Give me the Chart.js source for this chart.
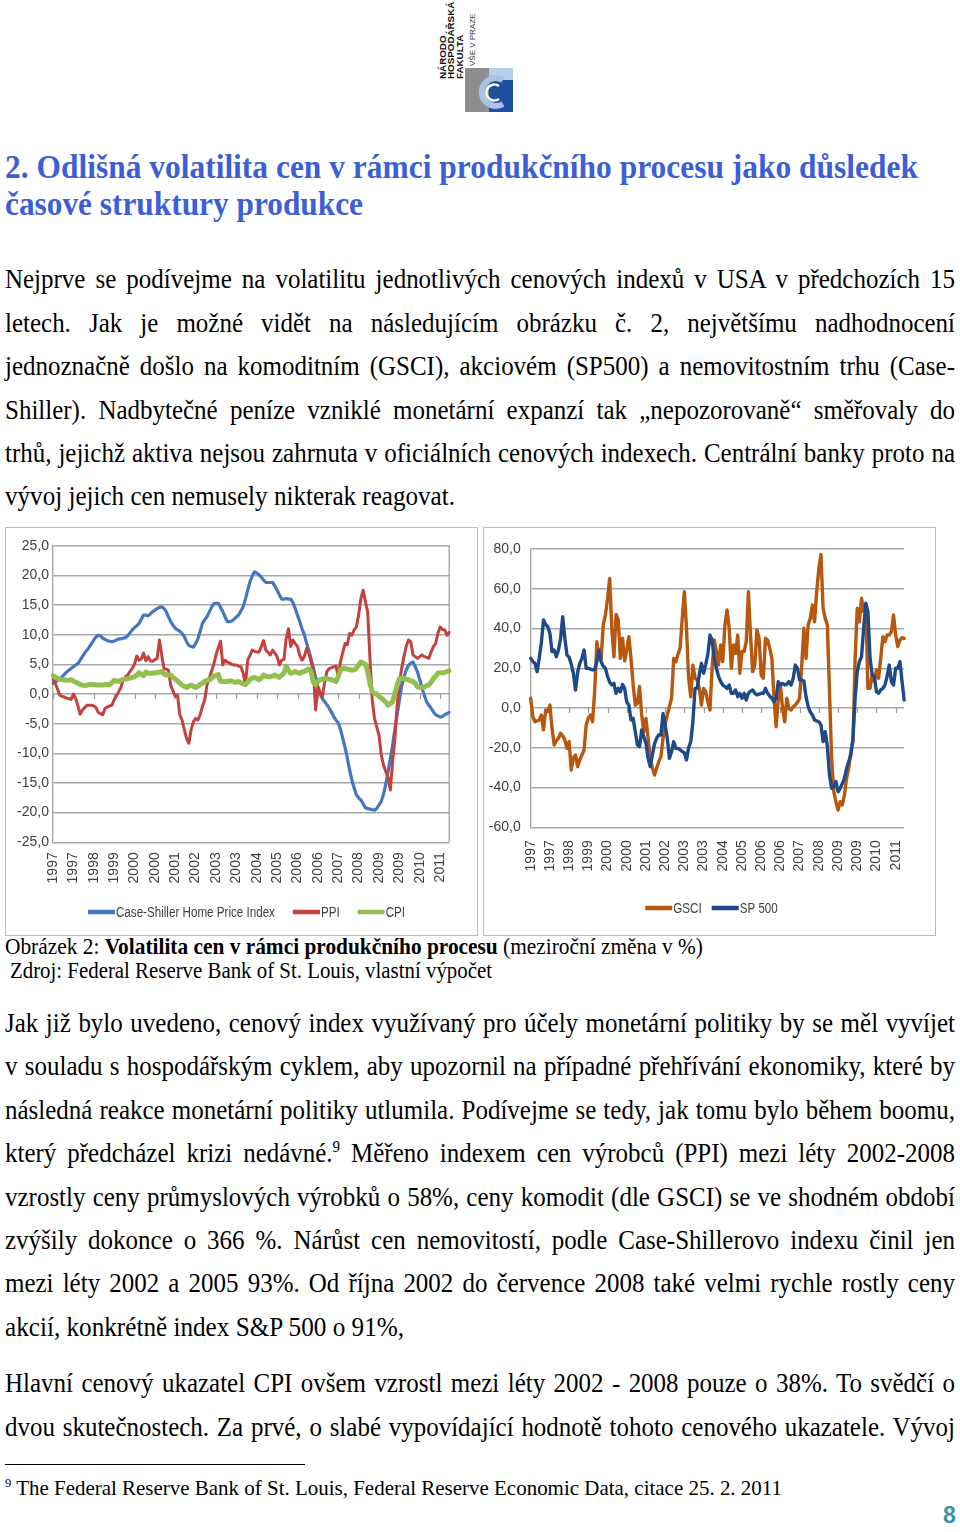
<!DOCTYPE html>
<html><head><meta charset="utf-8">
<script src="https://cdn.jsdelivr.net/npm/chart.js@4.4.0/dist/chart.umd.min.js"></script>
<style>
html,body{margin:0;padding:0;background:#fff;}
body{width:960px;height:1532px;position:relative;overflow:hidden;font-family:"Liberation Serif","Times New Roman",serif;color:#000;}
.ln{position:absolute;white-space:nowrap;}
.hd{color:#3c5fd7;font-weight:bold;}
.frame{position:absolute;border:1px solid #bdbdbd;box-sizing:border-box;}
.cbox{position:absolute;}
sup{font-size:0.6em;vertical-align:0.6em;line-height:0;}
</style></head><body>

<div style="position:absolute;left:439px;top:0;height:79px;writing-mode:vertical-rl;transform:rotate(180deg);font:bold 9.8px 'Liberation Sans',Arial,sans-serif;line-height:8.3px;white-space:nowrap;color:#111;">NÁRODO<br>HOSPODÁŘSKÁ<br>FAKULTA</div>
<div style="position:absolute;left:469px;top:12px;height:54px;writing-mode:vertical-rl;transform:rotate(180deg);font:8px 'Liberation Sans',Arial,sans-serif;line-height:8px;white-space:nowrap;color:#333;">VŠE V PRAZE</div>
<svg style="position:absolute;left:463px;top:66px" width="52" height="46" viewBox="0 0 52 46">
  <rect x="2" y="2" width="24" height="44" fill="#8d8d8d"/>
  <rect x="26" y="2" width="24" height="14" fill="#b7cde8"/>
  <rect x="26" y="14" width="24" height="32" fill="#1c4f9f"/>
  <path d="M40 14 A14 14 0 1 0 40 38" fill="none" stroke="#a9c3e6" stroke-width="6"/>
  <path d="M36 20 A8 8 0 1 0 36 33" fill="none" stroke="#ffffff" stroke-width="2.5"/>
</svg>

<div class="frame" style="left:5px;top:527px;width:473px;height:409px;"></div>
<div class="frame" style="left:483px;top:527px;width:453px;height:409px;"></div>
<div class="cbox" style="left:6px;top:528px;width:470px;height:406px;"><canvas id="c1"></canvas></div>
<div class="cbox" style="left:484px;top:528px;width:450px;height:406px;"><canvas id="c2"></canvas></div>

<div style="position:absolute;left:5px;top:1464px;width:300px;height:1px;background:#000;"></div>

<div id="txt"></div>

<script>
// ---------- chart data ----------
const startYear = 1997, endYear = 2011, endMonth = 8;
const months = [];
for (let y = startYear; y <= endYear; y++) for (let m = 1; m <= 12; m++) { if (y === endYear && m > endMonth) break; months.push(y + '-' + String(m).padStart(2, '0')); }

const yearTicks = ['1997','1997','1998','1999','2000','2000','2001','2002','2003','2003','2004','2005','2006','2006','2007','2008','2009','2009','2010','2011'];
const tickEvery = 9;

const leftYTicks = {min: -25, max: 25, step: 5};
const rightYTicks = {min: -60, max: 80, step: 20};

const caseShiller = [
 1.8,2.0,2.3,2.5,2.9,3.3,3.7,4.0,4.3,4.6,4.9,5.1,
 5.7,6.3,6.9,7.4,7.9,8.5,9.1,9.6,9.9,9.8,9.4,9.2,
 9.0,8.9,8.8,8.9,9.1,9.3,9.3,9.4,9.5,9.8,10.3,10.8,
 11.2,11.5,11.9,12.6,13.3,13.3,13.2,13.5,13.9,14.1,14.4,14.6,
 14.7,14.4,13.9,13.0,12.2,11.6,11.1,10.8,10.6,10.2,9.7,8.8,
 8.2,8.0,7.9,8.5,9.3,10.6,11.9,12.5,13.0,13.8,14.6,15.2,
 15.3,15.3,14.6,13.9,13.0,12.2,12.2,12.3,12.6,13.0,13.3,14.0,
 14.7,16.0,17.5,18.9,19.9,20.6,20.4,20.1,19.7,19.2,18.8,18.8,
 18.8,18.8,18.2,17.5,16.7,16.0,16.0,16.1,16.0,16.0,15.4,14.4,
 13.3,12.2,11.0,10.0,8.6,7.3,5.9,4.4,2.8,1.2,0.0,-0.8,
 -1.3,-1.8,-2.4,-3.1,-3.8,-4.4,-4.9,-6.0,-7.5,-9.0,-10.8,-12.8,
 -14.5,-15.8,-17.0,-17.5,-17.9,-18.5,-19.2,-19.3,-19.4,-19.5,-19.6,-19.3,
 -18.7,-18.1,-16.9,-15.2,-13.1,-10.9,-8.6,-6.0,-3.5,-1.0,1.3,2.9,
 4.0,4.8,5.2,5.4,4.6,3.7,2.4,1.0,-0.2,-1.3,-1.9,-2.4,
 -3.0,-3.5,-3.7,-3.9,-3.8,-3.5,-3.3,-3.1
];
const ppi = [
 2.4,1.8,0.8,-0.2,-0.4,-0.5,-0.7,-0.8,-0.9,0.0,-0.7,-2.0,
 -3.4,-2.7,-2.3,-1.9,-1.9,-1.9,-2.0,-2.3,-3.1,-3.3,-3.5,-2.4,
 -2.2,-2.0,-1.9,-1.0,-0.3,0.4,1.1,2.4,2.9,3.2,3.8,4.3,
 5.0,6.4,5.7,5.9,6.9,5.6,6.3,5.6,5.5,5.8,6.0,9.1,
 6.6,4.3,4.2,4.0,1.5,0.5,-0.4,-0.2,-3.5,-4.4,-6.0,-7.5,
 -8.3,-6.0,-4.7,-4.1,-4.4,-3.5,-2.1,-1.0,1.5,2.6,3.8,5.0,
 6.6,7.8,8.9,4.9,5.7,5.4,5.2,5.0,4.9,4.9,4.7,4.6,
 3.5,1.5,5.7,6.5,7.4,7.2,7.1,7.1,8.0,9.0,7.4,7.0,
 6.6,7.4,6.9,6.3,4.9,5.7,5.8,9.4,11.0,8.0,9.1,8.5,
 8.0,6.5,5.7,6.3,7.7,6.9,5.5,3.8,-2.7,1.2,0.3,-0.4,
 2.0,3.8,4.3,4.4,4.6,4.7,2.9,5.5,7.0,8.5,8.3,10.2,
 9.9,10.8,11.3,13.3,16.1,17.5,15.6,13.8,6.0,-1.0,-4.1,-5.5,
 -7.0,-10.3,-12.0,-13.1,-14.0,-16.2,-11.4,-7.5,-1.9,2.0,4.3,6.3,
 8.0,9.1,8.8,6.6,6.3,6.0,6.3,6.6,6.3,6.2,6.0,7.1,
 8.0,8.5,10.2,11.3,10.9,10.8,9.9,10.4
];
const cpi = [
 3.1,2.9,2.6,2.5,2.4,2.4,2.3,2.3,2.4,2.2,2.0,1.8,
 1.6,1.5,1.4,1.5,1.6,1.6,1.6,1.5,1.5,1.5,1.5,1.6,
 1.6,1.6,1.9,2.3,2.2,2.1,2.3,2.5,2.5,2.6,2.7,2.8,
 2.9,3.2,3.6,3.3,3.1,3.7,3.5,3.5,3.5,3.6,3.6,3.7,
 3.8,3.4,3.2,3.2,3.2,2.8,2.5,2.2,1.8,1.5,1.3,1.1,
 1.3,1.5,1.3,1.1,1.3,1.6,1.8,2.1,2.3,2.4,2.6,3.0,
 3.1,3.3,2.1,2.1,2.1,2.1,2.2,2.2,2.0,2.0,2.1,1.9,
 1.7,1.6,2.0,2.5,2.7,2.8,2.6,2.4,2.7,3.2,3.0,2.9,
 2.9,3.0,3.2,3.0,2.8,3.2,3.5,4.7,4.0,3.5,3.6,3.8,
 3.6,3.5,3.7,3.8,4.0,4.2,3.8,2.0,1.6,2.1,2.4,2.5,
 2.6,2.6,2.5,2.4,2.3,2.1,3.0,4.1,4.3,4.3,4.2,4.1,
 4.0,4.1,4.3,4.9,5.4,5.2,5.0,3.8,1.8,0.4,0.1,0.0,
 -0.4,-0.7,-1.0,-1.4,-1.9,-1.6,-1.3,0.1,1.5,2.6,2.7,2.6,
 2.5,2.4,2.2,2.1,1.8,1.2,1.1,1.1,1.2,1.4,1.5,2.0,
 2.6,3.0,3.5,3.6,3.6,3.6,3.8,3.9
];
const gsci = [
 4.9,-4.4,-6.9,-6.5,-6.0,-3.5,-11.0,-1.0,-1.8,1.5,-10.2,-18.6,
 -16.5,-15.2,-12.7,-14.0,-16.0,-20.3,-16.9,-31.2,-25.0,-23.6,-29.5,-26.0,
 -23.6,-21.1,-8.5,-5.0,-3.5,-6.9,9.1,33.4,25.8,25.0,41.8,46.8,
 55.0,65.2,40.1,25.8,47.1,44.3,25.0,35.1,23.7,29.2,35.9,25.0,
 11.6,1.5,2.3,10.8,-3.5,-11.9,-5.2,-15.2,-25.3,-30.0,-33.7,-30.3,
 -27.0,-24.5,-15.2,-8.0,-3.5,0.7,4.9,25.0,23.3,27.0,30.0,45.1,
 58.5,40.1,15.0,5.7,21.6,15.0,14.1,10.0,1.5,9.9,8.2,3.2,
 -1.0,20.0,34.2,28.4,21.6,31.7,23.3,41.8,49.3,40.1,20.0,31.7,
 27.5,36.7,17.5,28.4,28.4,33.4,58.5,36.7,18.3,21.6,39.3,35.1,
 16.6,15.0,35.1,34.2,30.0,25.0,4.9,-9.4,4.9,11.6,-0.2,-6.9,
 4.9,-0.2,-1.0,0.5,1.5,3.0,4.9,21.6,40.1,25.0,41.8,45.1,
 51.8,43.4,58.5,70.0,77.3,50.2,45.1,41.8,8.2,-25.3,-42.1,-47.1,
 -51.3,-47.1,-48.8,-43.7,-35.4,-30.3,-22.0,-16.9,25.0,50.2,43.4,55.2,
 48.5,51.8,9.9,9.9,16.6,13.3,19.2,15.0,25.0,35.9,33.4,36.7,
 36.7,38.4,46.8,36.7,30.9,34.2,35.4,35.0
];
const sp500 = [
 25.0,23.3,22.5,18.3,25.0,33.0,44.3,42.0,40.9,37.6,28.4,29.2,
 25.8,29.2,35.0,46.0,35.1,26.7,25.5,22.0,17.5,9.1,18.0,22.5,
 25.0,29.2,20.0,20.0,19.6,19.2,19.5,23.3,29.2,23.3,21.0,20.0,
 16.0,13.0,11.6,12.4,7.4,9.9,8.2,11.9,9.9,3.0,1.5,-6.0,
 -5.2,-11.9,-18.6,-19.4,-11.0,-14.4,-17.7,-25.3,-29.5,-23.6,-18.0,-15.2,
 -13.6,-13.6,-2.7,-8.5,-15.2,-25.3,-22.0,-16.9,-20.3,-20.3,-21.0,-21.9,
 -22.5,-26.1,-20.0,-16.9,-6.9,9.9,9.9,17.0,22.5,17.5,22.0,27.0,
 36.7,34.2,25.0,20.0,16.0,13.3,11.5,10.8,9.9,11.6,7.4,7.4,
 9.1,5.7,7.4,4.9,7.4,4.0,7.4,8.5,9.1,7.4,6.6,7.0,
 7.4,7.4,9.9,7.4,6.0,4.9,3.2,4.9,13.3,11.6,12.4,11.6,
 12.0,13.3,11.6,15.0,21.6,20.0,14.1,14.1,13.6,5.7,0.7,-2.0,
 -3.5,-6.0,-6.5,-6.9,-8.5,-16.9,-11.9,-19.4,-33.7,-40.4,-39.5,-37.0,
 -42.1,-40.4,-38.0,-35.4,-30.3,-27.0,-23.6,-15.2,4.9,18.3,23.3,25.8,
 40.1,52.7,48.5,25.0,16.6,15.8,8.2,7.4,9.1,9.9,11.6,16.0,
 21.6,13.3,11.6,20.0,20.0,23.3,13.3,4.0
];

// ---------- page text ----------
const B = 27, S = 0.925;
const textLines = [
 {h:'2. Odlišná volatilita cen v rámci produkčního procesu jako důsledek', x:5, cy:168, w:913, f:34, c:'hd'},
 {h:'časové struktury produkce', x:5, cy:205, w:358, f:34, c:'hd'},
 {h:'Nejprve se podívejme na volatilitu jednotlivých cenových indexů v USA v předchozích 15', x:5, cy:281, w:950, f:B, j:1},
 {h:'letech. Jak je možné vidět na následujícím obrázku č. 2, největšímu nadhodnocení', x:5, cy:324.5, w:950, f:B, j:1},
 {h:'jednoznačně došlo na komoditním (GSCI), akciovém (SP500) a nemovitostním trhu (Case-', x:5, cy:368, w:950, f:B, j:1},
 {h:'Shiller). Nadbytečné peníze vzniklé monetární expanzí tak „nepozorovaně“ směřovaly do', x:5, cy:411.5, w:950, f:B, j:1},
 {h:'trhů, jejichž aktiva nejsou zahrnuta v oficiálních cenových indexech. Centrální banky proto na', x:5, cy:455, w:950, f:B, j:1},
 {h:'vývoj jejich cen nemusely nikterak reagovat.', x:5, cy:498, w:450, f:B},
 {h:'Obrázek 2: <b>Volatilita cen v rámci produkčního procesu</b> (meziroční změna v %)', x:5, cy:948, w:698, f:22.5},
 {h:'Zdroj: Federal Reserve Bank of St. Louis, vlastní výpočet', x:10, cy:972, w:482, f:22.5},
 {h:'Jak již bylo uvedeno, cenový index využívaný pro účely monetární politiky by se měl vyvíjet', x:5, cy:1025, w:950, f:B, j:1},
 {h:'v souladu s hospodářským cyklem, aby upozornil na případné přehřívání ekonomiky, které by', x:5, cy:1068, w:950, f:B, j:1},
 {h:'následná reakce monetární politiky utlumila. Podívejme se tedy, jak tomu bylo během boomu,', x:5, cy:1111.5, w:950, f:B, j:1},
 {h:'který předcházel krizi nedávné.<sup>9</sup> Měřeno indexem cen výrobců (PPI) mezi léty 2002-2008', x:5, cy:1155, w:950, f:B, j:1},
 {h:'vzrostly ceny průmyslových výrobků o 58%, ceny komodit (dle GSCI) se ve shodném období', x:5, cy:1198.5, w:950, f:B, j:1},
 {h:'zvýšily dokonce o 366 %. Nárůst cen nemovitostí, podle Case-Shillerovo indexu činil jen', x:5, cy:1242, w:950, f:B, j:1},
 {h:'mezi léty 2002 a 2005 93%. Od října 2002 do července 2008 také velmi rychle rostly ceny', x:5, cy:1285, w:950, f:B, j:1},
 {h:'akcií, konkrétně index S&amp;P 500 o 91%,', x:5, cy:1329, w:399, f:B},
 {h:'Hlavní cenový ukazatel CPI ovšem vzrostl mezi léty 2002 - 2008 pouze o 38%. To svědčí o', x:5, cy:1385, w:950, f:B, j:1},
 {h:'dvou skutečnostech. Za prvé, o slabé vypovídající hodnotě tohoto cenového ukazatele. Vývoj', x:5, cy:1428.5, w:950, f:B, j:1},
 {h:'<sup>9</sup> The Federal Reserve Bank of St. Louis, Federal Reserve Economic Data, citace 25. 2. 2011', x:5, cy:1490, w:777, f:21.5}
];
const txt = document.getElementById('txt');
textLines.forEach(l => {
  const d = document.createElement('div');
  d.className = 'ln' + (l.c ? ' ' + l.c : '');
  d.innerHTML = l.h;
  d.style.left = l.x + 'px';
  d.style.fontSize = l.f + 'px';
  d.style.lineHeight = l.f + 'px';
  d.style.top = (l.cy - 0.5375 * l.f) + 'px';
  d.style.transformOrigin = '0 ' + (0.5375 * l.f) + 'px';
  d.dataset.w = l.w; d.dataset.j = l.j ? '1' : '0';
  txt.appendChild(d);
});
const pn = document.createElement('div');
pn.textContent = '8';
pn.style.cssText = "position:absolute;left:943px;top:1504px;font:bold 23px 'Liberation Sans',Arial,sans-serif;line-height:23px;color:#3a8fae;";
document.body.appendChild(pn);

function fitLines() {
  document.querySelectorAll('.ln').forEach(el => {
    el.style.wordSpacing = '0px'; el.style.transform = '';
    const nat = el.getBoundingClientRect().width;
    const w = +el.dataset.w;
    if (el.dataset.j === '1') {
      const n = (el.textContent.match(/ /g) || []).length;
      const ws = (w / S - nat) / n;
      if (ws >= 0) { el.style.wordSpacing = ws + 'px'; el.style.transform = 'scaleX(' + S + ')'; return; }
    }
    el.style.transform = 'scaleX(' + (w / nat) + ')';
  });
}
fitLines();
if (document.fonts && document.fonts.ready) document.fonts.ready.then(fitLines);

// ---------- chart helpers ----------
const tickFont = {family: "'Liberation Sans',Arial,sans-serif", size: 14};
const fmt = v => v.toFixed(1).replace('.', ',');

const lineLegend = {
  id: 'lineLegend',
  afterDraw(chart, args, o) {
    const ctx = chart.ctx;
    ctx.save();
    ctx.font = o.size + 'px ' + o.family;
    const items = chart.data.datasets.map(d => ({label: d.label, color: d.borderColor, w: ctx.measureText(d.label).width * o.sx}));
    const total = items.reduce((s, it) => s + o.swatch + 1 + it.w, 0) + o.gap * (items.length - 1);
    let x = o.cx - total / 2;
    ctx.textBaseline = 'middle';
    for (const it of items) {
      ctx.strokeStyle = it.color; ctx.lineWidth = o.thickness; ctx.lineCap = 'butt';
      ctx.beginPath(); ctx.moveTo(x, o.y); ctx.lineTo(x + o.swatch, o.y); ctx.stroke();
      x += o.swatch + 1;
      ctx.save();
      ctx.translate(x, o.y + 1); ctx.scale(o.sx, 1);
      ctx.fillStyle = o.color; ctx.fillText(it.label, 0, 0);
      ctx.restore();
      x += it.w + o.gap;
    }
    ctx.restore();
  }
};
const excelExtras = {
  id: 'excelExtras',
  beforeDatasetsDraw(chart, args, o) {
    const {ctx, chartArea: a, scales: {x, y}} = chart;
    ctx.save();
    ctx.strokeStyle = o.color; ctx.lineWidth = 1.2;
    const y0 = y.getPixelForValue(0);
    ctx.beginPath();
    for (let i = 0; i < months.length; i += tickEvery) {
      const px = Math.round(x.getPixelForValue(i)) + 0.5;
      ctx.moveTo(px, y0); ctx.lineTo(px, y0 + 5);
    }
    if (o.rightBorder) { ctx.moveTo(a.right, a.top); ctx.lineTo(a.right, a.bottom); }
    ctx.stroke();
    ctx.restore();
  }
};

function makeChart(id, datasets, yr, geo) {
  return new Chart(document.getElementById(id), {
    type: 'line',
    data: {labels: months, datasets},
    options: {
      animation: false, responsive: true, maintainAspectRatio: false,
      events: [],
      elements: {point: {radius: 0}, line: {tension: 0, borderJoinStyle: 'round', borderCapStyle: 'round', fill: false}},
      layout: {padding: geo.padding},
      plugins: {
        legend: {display: false}, tooltip: {enabled: false},
        lineLegend: {cx: geo.legendX, y: geo.legendY, swatch: 27, gap: geo.legendGap, thickness: 4.5, size: 15.5, sx: 0.75, family: tickFont.family, color: '#404040'},
        excelExtras: {color: '#9a9a9a', rightBorder: geo.rightBorder}
      },
      scales: {
        x: {
          grid: {display: false, drawTicks: false}, border: {display: false},
          ticks: {autoSkip: false, maxRotation: 90, minRotation: 90, padding: geo.xPad, font: tickFont, color: '#404040',
                  callback: (v, i) => (i % tickEvery === 0 ? yearTicks[i / tickEvery] : '')},
          afterFit: s => { s.height = geo.xHeight; }
        },
        y: {
          min: yr.min, max: yr.max,
          ticks: {stepSize: yr.step, padding: geo.yPad, font: tickFont, color: '#404040', callback: v => fmt(v)},
          grid: {color: '#a8a8a8', lineWidth: 1.4, drawTicks: false},
          border: {display: true, color: '#a8a8a8', width: 1.4},
          afterFit: s => { s.width = geo.yWidth; }
        }
      }
    },
    plugins: [lineLegend, excelExtras]
  });
}

makeChart('c1', [
  {label: 'Case-Shiller Home Price Index', data: caseShiller, borderColor: '#4477c0', borderWidth: 3.2, order: 3},
  {label: 'PPI', data: ppi, borderColor: '#c4413d', borderWidth: 3, order: 2},
  {label: 'CPI', data: cpi, borderColor: '#93bf4f', borderWidth: 5, order: 1}
], leftYTicks, {padding: {left: 0, top: 17.7, right: 7, bottom: 39}, xHeight: 52.7, yWidth: 47, xPad: 10, yPad: 4, legendX: 240.5, legendY: 384, legendGap: 18, rightBorder: true});

makeChart('c2', [
  {label: 'GSCI', data: gsci, borderColor: '#b8580f', borderWidth: 3.4, order: 2},
  {label: 'SP 500', data: sp500, borderColor: '#1f4a8a', borderWidth: 3.4, order: 1}
], rightYTicks, {padding: {left: 0, top: 21, right: 11.3, bottom: 56.7}, xHeight: 50, yWidth: 46.7, xPad: 13, yPad: 10, legendX: 227.5, legendY: 380, legendGap: 10, rightBorder: false});
</script>
</body></html>
